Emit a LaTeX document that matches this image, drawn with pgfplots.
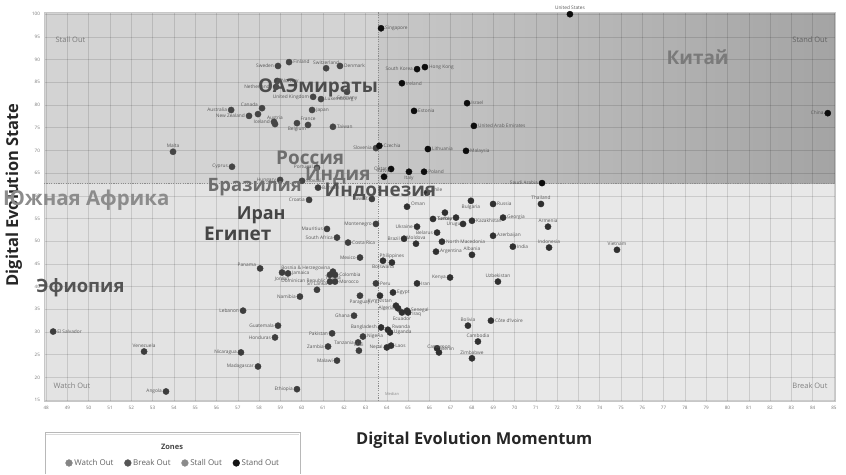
\documentclass[border=0pt]{standalone}
\usepackage{fontspec}
\setmainfont{Open Sans}
\usepackage{pgfplots}
\usepackage{pgfplotstable}
\pgfplotsset{compat=1.18}
\definecolor{bgWatch}{HTML}{E3E3E3}
\definecolor{bgBreak}{HTML}{E8E8E8}
\definecolor{bgStall}{HTML}{D3D3D3}
\definecolor{standL}{HTML}{C8C8C8}
\definecolor{standR}{HTML}{A4A4A4}
\definecolor{mWatch}{HTML}{3D3D3D}
\definecolor{mBreak}{HTML}{303030}
\definecolor{mStall}{HTML}{454545}
\definecolor{mStand}{HTML}{0D0D0D}
\definecolor{lWatch}{HTML}{858585}
\definecolor{lBreak}{HTML}{555555}
\definecolor{lStall}{HTML}{8A8A8A}
\definecolor{lStand}{HTML}{141414}
\definecolor{lbl}{HTML}{575757}

% column g: angle of the label's anchor (180 = label right of dot, 0 = left, 270 = below, 90 = above)
\pgfplotstableread[col sep=comma]{
x,y,l,g
72.6,100.0,United States,270
63.73,96.9,Singapore,180
84.71,78.2,China,0
65.42,87.9,South Korea,0
65.79,88.35,Hong Kong,180
64.71,84.8,Ireland,180
67.77,80.4,Israel,180
65.28,78.7,Estonia,180
68.09,75.4,United Arab Emirates,180
63.65,71.0,Czechia,180
65.93,70.3,Lithuania,180
67.72,69.9,Malaysia,180
64.2,65.9,Qatar,0
65.04,65.3,Italy,90
65.75,65.3,Poland,180
71.29,62.8,Saudi Arabia,0
63.87,64.2,Latvia,270
}\standout

\pgfplotstableread[col sep=comma]{
x,y,l,g
59.41,89.45,Finland,180
58.89,88.6,Sweden,0
61.8,88.6,Denmark,180
61.15,88.1,Switzerland,270
58.85,85.3,Norway,180
58.8,84.0,Netherlands,0
62.13,82.9,Germany,90
60.54,81.8,United Kingdom,0
60.91,81.3,Luxembourg,180
58.14,79.3,Canada,345
56.69,78.9,Australia,0
57.53,77.6,New Zealand,0
58.7,76.3,Iceland,0
58.75,75.8,Austria,270
60.49,78.9,Japan,180
59.78,76.0,Belgium,90
60.3,75.6,France,270
61.47,75.2,Taiwan,180
63.49,70.5,Slovenia,0
53.96,69.7,Malta,270
56.73,66.4,Cyprus,0
60.72,66.2,Portugal,0
58.99,63.5,Hungary,0
60.02,63.3,Slovakia,180
}\stallout

\pgfplotstableread[col sep=comma]{
x,y,l,g
65.89,60.7,Chile,195
64.95,57.6,Oman,195
67.95,58.9,Bulgaria,90
68.99,58.2,Russia,180
71.24,58.2,Thailand,270
66.73,56.3,Serbia,90
66.17,54.9,Turkey,180
67.25,55.2,Uruguay,90
68.0,54.5,Kazakhstan,180
69.46,55.2,Georgia,180
71.57,53.2,Armenia,270
65.42,53.2,Ukraine,0
66.36,51.9,Belarus,0
64.81,50.55,Brazil,0
65.37,49.45,Moldova,270
66.59,49.9,North Macedonia,180
68.99,51.2,Azerbaijan,180
69.92,48.8,India,180
71.62,48.6,Indonesia,270
74.81,48.1,Vietnam,270
66.31,47.7,Argentina,180
68.0,47.0,Albania,270
63.82,45.7,Botswana,90
64.24,45.3,Philippines,270
66.97,42.0,Kenya,0
65.42,40.7,Iran,180
69.22,41.1,Uzbekistan,270
64.29,38.7,Egypt,180
64.53,35.2,Algeria,0
64.71,34.3,Ecuador,90
64.95,34.7,Senegal,180
65.0,34.3,Iraq,165
64.43,35.8,Kyrgyzstan,345
68.89,32.5,Côte d'Ivoire,180
67.81,31.4,Bolivia,270
68.28,27.9,Cambodia,270
66.36,26.4,Benin,180
66.45,25.5,Cameroon,270
68.0,24.2,Zimbabwe,270
63.73,31.0,Bangladesh,0
64.05,30.5,Rwanda,195
64.15,29.9,Uganda,180
64.2,27.0,Laos,180
64.0,26.6,Nepal,0
}\breakout

\pgfplotstableread[col sep=comma]{
x,y,l,g
63.3,59.3,Kuwait,0
60.77,61.8,Bahrain,180
60.35,59.1,Croatia,0
63.49,53.8,Montenegro,0
61.19,52.7,Mauritius,0
61.66,50.8,South Africa,0
62.18,49.7,Costa Rica,180
62.74,46.4,Mexico,0
61.47,43.3,Tunisia,90
61.33,42.6,Bosnia \& Herzegovina,345
61.57,42.6,Colombia,180
61.33,41.1,Dominican Republic,0
61.57,41.1,Morocco,180
59.36,42.9,Jamaica,180
59.08,43.1,Jordan,90
58.05,44.0,Panama,345
59.92,37.8,Namibia,0
60.72,39.3,Sri Lanka,270
63.49,40.7,Peru,180
62.74,38.0,Paraguay,90
62.46,33.6,Ghana,0
62.88,29.0,Nigeria,180
62.65,27.7,Tanzania,0
62.69,25.9,Mali,270
61.24,26.8,Zambia,0
61.43,29.7,Pakistan,0
61.66,23.7,Malawi,0
59.78,17.4,Ethiopia,0
57.25,34.7,Lebanon,0
58.89,31.4,Guatemala,0
58.75,28.8,Honduras,0
57.15,25.5,Nicaragua,0
57.95,22.4,Madagascar,0
52.6,25.7,Venezuela,270
48.33,30.1,El Salvador,180
53.63,16.9,Angola,0
}\watchout

\pgfplotsset{
  ptlabels/.style={
    only marks, mark=*, mark size=3.1pt,
    nodes near coords, point meta=explicit symbolic,
    visualization depends on={\thisrow{g}\as\ang},
    every node near coord/.append style={anchor=\ang, inner sep=4.2pt, outer sep=0pt,
      font=\fontsize{4.8}{5.5}\selectfont, text=lbl},
  },
}

\begin{document}
\begin{tikzpicture}
\path (0,0) rectangle (846bp,474bp);
\draw[draw=black!28, fill=white, line width=0.7pt] (45bp,0bp) -- (45bp,42bp) -- (300bp,42bp) -- (300bp,0bp);
\draw[black!15, line width=0.7pt] (46bp,40bp) -- (299bp,40bp);
\node[font=\bfseries\fontsize{7.5}{8}\selectfont, text=black!72] at (172bp,27bp) {Zones};
\begin{axis}[
  at={(44bp,73bp)}, anchor=south west,
  width=791bp, height=388.6bp, scale only axis,
  xmin=47.9, xmax=85.05, ymin=14.8, ymax=100.4,
  xtick={48,...,85}, ytick={15,20,...,100},
  grid=major, grid style={black, opacity=0.12, line width=0.5pt},
  major tick length=0pt,
  axis line style={draw=black!22},
  tick label style={font=\fontsize{4.6}{5}\selectfont, text=black!55},
  /pgf/number format/assume math mode=true,
  xticklabel style={yshift=-1.5pt},
  yticklabel style={xshift=-0.5pt},
  xlabel={Digital Evolution Momentum},
  ylabel={Digital Evolution State},
  label style={font=\bfseries\fontsize{16.5}{18}\selectfont, text=black!85},
  xlabel style={at={(axis description cs:0.544,-0.1004)}, anchor=center},
  ylabel style={at={(axis description cs:-0.038,0.53)}, anchor=center},
  clip=false,
  set layers,
  legend style={at={(0.1635,-0.1595)}, anchor=center, draw=none, fill=none,
    legend columns=4, font=\fontsize{8}{9}\selectfont, text=black!62,
    /tikz/every even column/.append style={column sep=9pt},
    legend cell align=left, inner sep=1pt},
]
\begin{pgfonlayer}{axis background}
\fill[bgWatch] (axis cs:47.9,14.8) rectangle (axis cs:63.6,62.7);
\fill[bgBreak] (axis cs:63.6,14.8) rectangle (axis cs:85.05,62.7);
\fill[bgStall] (axis cs:47.9,62.7) rectangle (axis cs:63.6,100.4);
\shade[left color=standL, right color=standR] (axis cs:63.6,62.7) rectangle (axis cs:85.05,100.4);
\end{pgfonlayer}

\draw[black!45, dash pattern=on 1.2pt off 1.2pt, line width=0.7pt] (axis cs:63.6,14.8) -- (axis cs:63.6,100.4);
\draw[black!45, dash pattern=on 1.2pt off 1.2pt, line width=0.7pt] (axis cs:47.9,62.7) -- (axis cs:85.05,62.7);

\node[anchor=west, font=\fontsize{7.5}{8}\selectfont, text=black!52] at (axis cs:48.28,94.3) {Stall Out};
\node[anchor=east, font=\fontsize{7.5}{8}\selectfont, text=black!62] at (axis cs:84.86,94.3) {Stand Out};
\node[anchor=west, font=\fontsize{7.5}{8}\selectfont, text=black!50] at (axis cs:48.19,18.2) {Watch Out};
\node[anchor=east, font=\fontsize{7.5}{8}\selectfont, text=black!50] at (axis cs:84.86,18.2) {Break Out};
\node[anchor=west, font=\fontsize{4}{5}\selectfont, text=black!45] at (axis cs:63.75,16.4) {Median};

\addlegendimage{only marks, mark=*, mark size=3.4pt, draw=lWatch, fill=lWatch}
\addlegendentry{Watch Out}
\addlegendimage{only marks, mark=*, mark size=3.4pt, draw=lBreak, fill=lBreak}
\addlegendentry{Break Out}
\addlegendimage{only marks, mark=*, mark size=3.4pt, draw=lStall, fill=lStall}
\addlegendentry{Stall Out}
\addlegendimage{only marks, mark=*, mark size=3.4pt, draw=lStand, fill=lStand}
\addlegendentry{Stand Out}

\addplot[ptlabels, draw=mWatch, fill=mWatch, forget plot] table[x=x, y=y, meta=l] {\watchout};
\addplot[ptlabels, draw=mBreak, fill=mBreak, forget plot] table[x=x, y=y, meta=l] {\breakout};
\addplot[ptlabels, draw=mStall, fill=mStall, forget plot] table[x=x, y=y, meta=l] {\stallout};
\addplot[ptlabels, draw=mStand, fill=mStand, forget plot] table[x=x, y=y, meta=l] {\standout};
\addplot[only marks, mark=*, mark size=3.1pt, draw=mBreak, fill=mBreak, forget plot] coordinates {(63.68,38.0) (67.58,53.8)};
\addplot[only marks, mark=*, mark size=3.1pt, draw=mStall, fill=mStall, forget plot] coordinates {(57.95,78.0)};

\begin{pgfonlayer}{axis foreground}
\node[font=\bfseries\fontsize{19}{20}\selectfont, text=black!52] at (axis cs:78.6,90.5) {Китай};
\node[font=\bfseries\fontsize{19}{20}\selectfont, text=black!70] at (axis cs:60.77,83.7) {ОАЭмираты};
\node[font=\bfseries\fontsize{19}{20}\selectfont, text=black!57] at (axis cs:60.4,68.4) {Россия};
\node[font=\bfseries\fontsize{19}{20}\selectfont, text=black!56] at (axis cs:61.7,64.4) {Индия};
\node[font=\bfseries\fontsize{19}{20}\selectfont, text=black!68] at (axis cs:63.7,60.9) {Индонезия};
\node[font=\bfseries\fontsize{18.5}{20}\selectfont, text=black!57] at (axis cs:57.8,61.8) {Бразилия};
\node[anchor=west, inner sep=0pt, font=\bfseries\fontsize{20.5}{21}\selectfont, text=black!45] at (axis cs:45.97,59.1) {Южная Африка};
\node[font=\bfseries\fontsize{18}{20}\selectfont, text=black!73] at (axis cs:58.1,55.8) {Иран};
\node[font=\bfseries\fontsize{19}{20}\selectfont, text=black!73] at (axis cs:57.0,51.6) {Египет};
\node[anchor=west, inner sep=0pt, font=\bfseries\fontsize{18.5}{20}\selectfont, text=black!67] at (axis cs:47.53,39.8) {Эфиопия};
\end{pgfonlayer}
\end{axis}
\end{tikzpicture}
\end{document}
